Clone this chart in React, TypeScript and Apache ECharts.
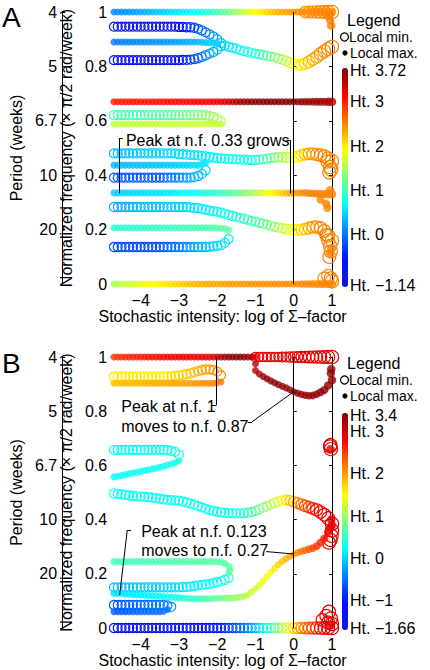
import React, { useEffect, useRef } from "react";
import * as echarts from "echarts";

// ---------- shared x grid (log of Sigma-factor) ----------
const XS = [-4.7,-4.6,-4.5,-4.4,-4.3,-4.2,-4.1,-4.0,-3.9,-3.8,
  -3.7,-3.6,-3.5,-3.4,-3.3,-3.2,-3.1,-3.0,-2.9,-2.8,
  -2.7,-2.6,-2.5,-2.4,-2.3,-2.2,-2.1,-2.0,-1.9,-1.8,
  -1.7,-1.6,-1.5,-1.4,-1.3,-1.2,-1.1,-1.0,-0.9,-0.8,
  -0.7,-0.6,-0.5,-0.4,-0.3,-0.2,-0.1,0,0.1,0.2,
  0.3,0.4,0.5,0.6,0.7,0.8,0.9,1.0];
const XS_LATE = [-1.0,-0.9,-0.8,-0.7,-0.6,-0.5,-0.4,-0.3,-0.2,-0.1,0,0.1,0.2,0.3,0.4,0.5,0.6,0.7,0.8,0.9,1.0];

// ---------- Panel A: local maxima (filled) ----------
const A1_Y = [1,1,1,1,1,1,1,1,1,1, 1,1,1,1,1,1,1,1,1,1, 1,1,1,1,1,1,1,1,1,1, 1,1,1,1,1,1,1,1,1,1, 1,1,1,1,1,1,1,1,1,1, 1,1,1,1,1,1,1,1];
const A1_H = [0.10,0.12,0.14,0.16,0.18,0.20,0.23,0.26,0.30,0.33, 0.36,0.39,0.42,0.45,0.48,0.51,0.54,0.57,0.60,0.63,
  0.66,0.70,0.74,0.78,0.82,0.87,0.93,1.00,1.07,1.15, 1.23,1.31,1.40,1.50,1.60,1.70,1.80,1.88,1.95,2.02,
  2.08,2.14,2.20,2.25,2.30,2.34,2.37,2.40,2.42,2.44, 2.45,2.46,2.47,2.48,2.48,2.48,2.48,2.48];
const A3_Y = [0.89,0.89,0.89,0.89,0.89,0.89,0.89,0.89,0.89,0.89, 0.89,0.89,0.89,0.89,0.89,0.89,0.89,0.89,0.89,0.89, 0.89,0.89,0.89,0.889,0.888,0.887,0.886,0.885];
const A3_H = [0.05,0.06,0.07,0.08,0.09,0.10,0.11,0.12,0.13,0.14, 0.15,0.16,0.17,0.18,0.19,0.20,0.22,0.24,0.26,0.28, 0.30,0.32,0.34,0.36,0.39,0.42,0.45,0.48];
const A5_Y = [0.67,0.67,0.67,0.67,0.67,0.67,0.67,0.67,0.67,0.67, 0.67,0.67,0.67,0.67,0.67,0.67,0.67,0.67,0.67,0.67,
  0.67,0.67,0.67,0.67,0.67,0.67,0.67,0.67,0.67,0.67, 0.67,0.67,0.67,0.67,0.67,0.67,0.67,0.67,0.67,0.67,
  0.67,0.67,0.67,0.67,0.67,0.67,0.67,0.67,0.67,0.67, 0.67,0.67,0.67,0.67,0.67,0.67,0.67,0.67];
const A5_H = [3.00,3.00,3.00,3.01,3.01,3.02,3.02,3.03,3.03,3.04, 3.04,3.05,3.05,3.06,3.06,3.07,3.07,3.08,3.08,3.09,
  3.10,3.10,3.11,3.12,3.13,3.14,3.16,3.18,3.22,3.28, 3.35,3.42,3.50,3.56,3.60,3.63,3.65,3.66,3.67,3.68,
  3.68,3.69,3.69,3.70,3.70,3.70,3.69,3.68,3.66,3.64, 3.62,3.60,3.58,3.56,3.55,3.54,3.53,3.52];
const A7_Y = [0.588,0.588,0.588,0.588,0.588,0.588,0.588,0.588,0.588,0.588, 0.588,0.588,0.588,0.588,0.588,0.588,0.588,0.588,0.588,0.588, 0.588,0.588,0.588,0.588,0.588,0.588,0.588,0.588,0.588];
const A7_H = [1.60,1.60,1.60,1.60,1.60,1.60,1.60,1.60,1.60,1.60, 1.62,1.62,1.62,1.62,1.62,1.62,1.62,1.62,1.62,1.62, 1.64,1.64,1.64,1.64,1.64,1.64,1.64,1.64,1.64];
const A9_Y = [0.437,0.437,0.437,0.437,0.437,0.437,0.437,0.437,0.437,0.437, 0.437,0.437,0.437,0.437,0.437,0.437,0.437,0.437,0.437,0.437, 0.437,0.437,0.437,0.440,0.445];
const A9_H = [0.35,0.35,0.36,0.36,0.37,0.37,0.38,0.38,0.39,0.39, 0.40,0.40,0.41,0.42,0.43,0.44,0.45,0.46,0.47,0.48, 0.49,0.50,0.52,0.54,0.56];
const A11_Y = [0.335,0.335,0.335,0.335,0.335,0.335,0.335,0.335,0.335,0.335, 0.335,0.335,0.335,0.335,0.335,0.335,0.335,0.335,0.335,0.335,
  0.335,0.335,0.335,0.335,0.335,0.335,0.335,0.335,0.335,0.335, 0.335,0.335,0.335,0.335,0.335,0.335,0.335,0.335,0.335,0.335,
  0.335,0.335,0.335,0.335,0.334,0.334,0.334,0.334,0.335,0.335, 0.335,0.334,0.333,0.332,0.332,0.331,0.330,0.330];
const A11_H = [0.45,0.46,0.47,0.48,0.49,0.50,0.51,0.52,0.53,0.54, 0.55,0.56,0.57,0.58,0.59,0.60,0.62,0.64,0.66,0.68,
  0.70,0.72,0.75,0.78,0.81,0.84,0.88,0.92,0.96,1.00, 1.05,1.10,1.16,1.22,1.30,1.38,1.46,1.54,1.63,1.72,
  1.81,1.90,1.98,2.06,2.14,2.22,2.30,2.35,2.40,2.44, 2.46,2.48,2.50,2.50,2.50,2.50,2.50,2.50];
const A13_Y = [0.207,0.207,0.207,0.207,0.207,0.207,0.207,0.207,0.207,0.207, 0.207,0.207,0.207,0.207,0.207,0.207,0.207,0.207,0.207,0.207, 0.207,0.207,0.207,0.207,0.207,0.207,0.207,0.206,0.205,0.203,0.198];
const A13_H = [0.90,0.90,0.91,0.91,0.92,0.92,0.93,0.93,0.94,0.94, 0.95,0.95,0.96,0.96,0.97,0.97,0.98,0.98,0.99,0.99, 1.00,1.01,1.02,1.03,1.04,1.05,1.06,1.08,1.10,1.12,1.15];
const A15_Y = [0,0,0,0,0,0,0,0,0,0, 0,0,0,0,0,0,0,0,0,0, 0,0,0,0,0,0,0,0,0,0, 0,0,0,0,0,0,0,0,0,0, 0,0,0,0,0,0,0,0,0,0, 0,0,0,0,0,0,0,0];
const A15_H = [1.50,1.54,1.58,1.62,1.66,1.70,1.74,1.78,1.82,1.86, 1.90,1.93,1.96,1.99,2.02,2.05,2.08,2.11,2.14,2.17,
  2.20,2.22,2.24,2.26,2.28,2.30,2.31,2.32,2.33,2.34, 2.35,2.36,2.37,2.38,2.39,2.40,2.40,2.41,2.41,2.42,
  2.42,2.43,2.43,2.44,2.44,2.45,2.45,2.45,2.46,2.46, 2.46,2.47,2.47,2.47,2.48,2.48,2.48,2.48];
const A_XMAX_X = [0.92,0.95,0.98,0.7,0.85,0.88,0.95,0.95,0.98];
const A_XMAX_Y = [0.985,0.97,0.95,0.31,0.295,0.28,0.345,0.11,0.13];
const A_XMAX_H = [2.5,2.5,2.5,2.5,2.5,2.5,2.5,2.5,2.5];

// ---------- Panel A: local minima (open) ----------
const A2_Y = [0.946,0.946,0.946,0.946,0.946,0.946,0.946,0.946,0.946,0.946, 0.946,0.946,0.946,0.946,0.946,0.946,0.946,0.945,0.945,0.944,
  0.944,0.942,0.938,0.932,0.925,0.918,0.910,0.900,0.886,0.877, 0.872,0.869,0.865,0.860,0.856,0.853,0.850,0.847,0.845,0.842,
  0.839,0.836,0.833,0.829,0.825,0.820,0.814,0.809,0.806,0.806, 0.810,0.817,0.826,0.835,0.846,0.856,0.864,0.872];
const A2_H = [-0.80,-0.80,-0.80,-0.80,-0.80,-0.80,-0.80,-0.80,-0.80,-0.80, -0.80,-0.80,-0.80,-0.80,-0.80,-0.78,-0.75,-0.70,-0.60,-0.50,
  -0.40,-0.30,-0.20,-0.10,0.00,0.10,0.20,0.30,0.40,0.50, 0.55,0.60,0.65,0.70,0.75,0.80,0.85,0.90,0.95,1.00,
  1.10,1.20,1.30,1.40,1.50,1.60,1.70,1.80,1.90,2.00, 2.10,2.20,2.30,2.35,2.40,2.45,2.50,2.50];
const A4_Y = [0.823,0.823,0.823,0.823,0.823,0.823,0.823,0.823,0.823,0.823, 0.823,0.823,0.823,0.823,0.823,0.823,0.823,0.823,0.824,0.824, 0.825,0.827,0.830,0.835,0.841,0.847,0.853,0.862,0.874];
const A4_H = [-0.80,-0.80,-0.80,-0.80,-0.80,-0.80,-0.80,-0.80,-0.80,-0.80, -0.80,-0.80,-0.80,-0.80,-0.80,-0.78,-0.72,-0.62,-0.52,-0.42, -0.32,-0.22,-0.12,-0.02,0.08,0.18,0.28,0.38,0.48];
const A6_Y = [0.621,0.621,0.621,0.621,0.621,0.621,0.621,0.621,0.621,0.621, 0.621,0.621,0.621,0.621,0.621,0.621,0.621,0.621,0.621,0.621, 0.621,0.621,0.621,0.621,0.620,0.618,0.614,0.607,0.597];
const A6_H = [1.00,1.00,1.01,1.01,1.02,1.02,1.03,1.03,1.04,1.05, 1.06,1.07,1.08,1.10,1.12,1.14,1.16,1.18,1.20,1.22, 1.25,1.28,1.31,1.34,1.37,1.40,1.43,1.46,1.50];
const A8_Y = [0.480,0.480,0.480,0.480,0.480,0.480,0.480,0.480,0.480,0.480, 0.480,0.480,0.480,0.480,0.480,0.480,0.480,0.478,0.477,0.476,
  0.475,0.474,0.473,0.471,0.469,0.467,0.465,0.463,0.462,0.461, 0.460,0.459,0.458,0.457,0.457,0.456,0.456,0.456,0.457,0.459,
  0.461,0.463,0.465,0.466,0.466,0.465,0.465,0.466,0.469,0.473, 0.477,0.479,0.478,0.476,0.474,0.470,0.462,0.452];
const A8_H = [0.35,0.36,0.37,0.38,0.39,0.40,0.41,0.42,0.43,0.44, 0.45,0.46,0.47,0.48,0.49,0.50,0.51,0.52,0.53,0.54,
  0.55,0.56,0.57,0.58,0.59,0.60,0.62,0.64,0.66,0.68, 0.70,0.72,0.74,0.76,0.78,0.80,0.84,0.88,0.93,1.00,
  1.08,1.16,1.25,1.35,1.46,1.58,1.70,1.82,1.95,2.08, 2.20,2.30,2.38,2.44,2.48,2.50,2.50,2.50];
const A10_Y = [0.391,0.391,0.391,0.391,0.391,0.391,0.391,0.391,0.391,0.391, 0.391,0.391,0.391,0.391,0.391,0.391,0.391,0.391,0.391,0.391, 0.391,0.393,0.397,0.405,0.418];
const A10_H = [-0.15,-0.15,-0.15,-0.15,-0.15,-0.15,-0.15,-0.15,-0.15,-0.15, -0.15,-0.15,-0.15,-0.10,-0.05,0.00,0.05,0.10,0.15,0.20, 0.25,0.30,0.35,0.40,0.45];
const A12_Y = [0.283,0.283,0.283,0.283,0.283,0.283,0.283,0.283,0.283,0.283, 0.283,0.283,0.283,0.283,0.283,0.283,0.283,0.283,0.283,0.283,
  0.282,0.280,0.279,0.276,0.273,0.270,0.268,0.266,0.262,0.258, 0.254,0.250,0.247,0.243,0.240,0.236,0.232,0.229,0.225,0.222,
  0.218,0.214,0.211,0.208,0.205,0.202,0.200,0.199,0.199,0.200, 0.202,0.206,0.209,0.210,0.206,0.195,0.178,0.160];
const A12_H = [0.30,0.31,0.32,0.33,0.34,0.35,0.36,0.37,0.38,0.39, 0.40,0.41,0.42,0.43,0.44,0.45,0.46,0.47,0.48,0.49,
  0.50,0.52,0.55,0.58,0.61,0.64,0.67,0.70,0.73,0.76, 0.79,0.82,0.85,0.88,0.92,0.96,1.00,1.05,1.10,1.17,
  1.24,1.32,1.40,1.50,1.60,1.70,1.80,1.90,2.00,2.10, 2.20,2.30,2.38,2.44,2.48,2.50,2.50,2.50];
const A14_Y = [0.136,0.136,0.136,0.136,0.136,0.136,0.136,0.136,0.136,0.136, 0.136,0.136,0.136,0.136,0.136,0.136,0.136,0.136,0.136,0.136, 0.136,0.136,0.136,0.136,0.136,0.137,0.138,0.140,0.143,0.152,0.165];
const A14_H = [-0.20,-0.20,-0.20,-0.20,-0.20,-0.20,-0.20,-0.20,-0.20,-0.20, -0.20,-0.20,-0.20,-0.15,-0.10,-0.05,0.00,0.05,0.10,0.15, 0.20,0.25,0.30,0.34,0.38,0.42,0.46,0.50,0.54,0.58,0.62];
const A_XMIN_X = [0.3,0.4,0.5,0.6,0.7,0.8,0.9,1.0,0.88,0.95,0.98,0.93,0.85,0.9,0.95,0.97,0.93,0.8,0.9,0.97,1.0];
const A_XMIN_Y = [1,1,1,1,1,1,1,1,0.45,0.43,0.42,0.41,0.18,0.16,0.14,0.12,0.10,0.02,0.03,0.02,0.01];
const A_XMIN_H = [2.40,2.42,2.44,2.45,2.46,2.47,2.48,2.48,2.5,2.5,2.5,2.5,2.5,2.5,2.5,2.5,2.5,2.45,2.47,2.48,2.48];

// ---------- Panel B: local maxima (filled) ----------
const B1_Y = [1,1,1,1,1,1,1,1,1,1, 1,1,1,1,1,1,1,1,1,1, 1,1,1,1,1,1,1,1,1,1, 1,1,1,1,1,1,1,1];
const B1_H = [2.50,2.52,2.54,2.56,2.58,2.60,2.62,2.64,2.66,2.68, 2.70,2.72,2.74,2.75,2.76,2.77,2.78,2.79,2.80,2.81,
  2.82,2.83,2.84,2.85,2.86,2.88,2.92,2.98,3.10,3.22, 3.30,3.34,3.36,3.36,3.34,3.28,3.15,3.00];
const B3_Y = [0.950,0.937,0.928,0.920,0.912,0.905,0.898,0.892,0.886,0.879,0.872,0.867,0.862,0.859,0.857,0.858,0.863,0.870,0.878,0.895,0.915];
const B3_H = [3.10,3.20,3.25,3.28,3.30,3.30,3.30,3.30,3.30,3.30,3.30,3.30,3.30,3.30,3.31,3.32,3.33,3.34,3.35,3.35,3.35];
const B5_Y = [0.903,0.903,0.903,0.903,0.903,0.903,0.903,0.903,0.903,0.903, 0.903,0.903,0.903,0.903,0.903,0.903,0.903,0.903,0.903,0.903, 0.903,0.903,0.903,0.903,0.903,0.903,0.903,0.905,0.908];
const B5_H = [1.80,1.81,1.82,1.83,1.84,1.85,1.86,1.87,1.88,1.89, 1.90,1.91,1.92,1.93,1.94,1.95,1.96,1.97,1.98,1.99, 2.00,2.02,2.04,2.06,2.08,2.10,2.12,2.14,2.16];
const B7_Y = [0.557,0.560,0.563,0.566,0.569,0.572,0.575,0.578,0.581,0.584, 0.587,0.590,0.593,0.597,0.601,0.605,0.610,0.617];
const B7_H = [0.28,0.28,0.29,0.29,0.30,0.30,0.30,0.31,0.31,0.31, 0.32,0.32,0.32,0.33,0.33,0.34,0.34,0.35];
const B9_Y = [0.245,0.245,0.245,0.245,0.245,0.245,0.245,0.245,0.245,0.245, 0.245,0.245,0.245,0.245,0.245,0.245,0.245,0.245,0.245,0.245, 0.245,0.245,0.245,0.245,0.245,0.245,0.245,0.245,0.243,0.238,0.228];
const B9_H = [0.55,0.55,0.56,0.56,0.57,0.57,0.58,0.58,0.59,0.59, 0.60,0.60,0.61,0.61,0.62,0.62,0.63,0.63,0.64,0.64, 0.65,0.65,0.66,0.66,0.67,0.67,0.68,0.68,0.69,0.69,0.70];
const B11_Y = [0.128,0.127,0.127,0.126,0.125,0.124,0.123,0.122,0.121,0.120, 0.119,0.118,0.117,0.116,0.115,0.114,0.113,0.112,0.111,0.110,
  0.109,0.108,0.108,0.108,0.108,0.108,0.109,0.110,0.110,0.111, 0.111,0.111,0.112,0.114,0.117,0.123,0.133,0.145,0.158,0.173,
  0.190,0.205,0.220,0.234,0.246,0.256,0.265,0.272,0.278,0.283, 0.287,0.291,0.295,0.302,0.315,0.330,0.355,0.380];
const B11_H = [0.10,0.11,0.12,0.13,0.14,0.15,0.16,0.17,0.18,0.19, 0.21,0.23,0.25,0.27,0.29,0.31,0.34,0.37,0.40,0.43,
  0.46,0.50,0.54,0.58,0.62,0.66,0.71,0.76,0.81,0.86, 0.91,0.96,1.01,1.06,1.11,1.16,1.21,1.27,1.33,1.40,
  1.47,1.54,1.62,1.70,1.78,1.86,1.94,2.02,2.10,2.18, 2.26,2.34,2.42,2.50,2.58,2.66,2.74,2.82];
const B13_Y = [0.060,0.060,0.060,0.060,0.060,0.060,0.060,0.060,0.060,0.060, 0.060,0.060,0.060,0.062,0.068];
const B13_H = [-0.60,-0.59,-0.58,-0.57,-0.56,-0.55,-0.54,-0.53,-0.52,-0.51, -0.50,-0.49,-0.48,-0.47,-0.46];
const B_XMAX_X = [0.97,0.98,-1.0,0.96,0.98,0.96,0.97,-1.7,-1.66];
const B_XMAX_Y = [0.94,0.955,0.975,0.66,0.40,0.37,0.01,0.205,0.215];
const B_XMAX_H = [3.3,3.3,3.1,2.9,2.9,2.9,2.9,0.7,0.7];

// ---------- Panel B: local minima (open) ----------
const B2_Y = [1,1,1,1,1,1,1,1,1,1,1,1,1,1,1,1,1,1,1,1,1];
const B2_H = [2.80,2.82,2.84,2.85,2.86,2.86,2.87,2.87,2.88,2.88,2.88,2.88,2.88,2.87,2.87,2.86,2.86,2.86,2.86,2.86,2.85];
const B4_Y = [0.928,0.928,0.928,0.928,0.928,0.928,0.928,0.928,0.928,0.928, 0.928,0.928,0.928,0.928,0.928,0.929,0.930,0.932,0.934,0.937, 0.940,0.944,0.948,0.952,0.954,0.954,0.952,0.946,0.932];
const B4_H = [1.60,1.60,1.60,1.60,1.60,1.60,1.60,1.60,1.60,1.60, 1.60,1.60,1.60,1.60,1.60,1.65,1.68,1.71,1.74,1.77, 1.80,1.84,1.88,1.92,1.96,2.00,2.04,2.08,2.12];
const B6_Y = [0.657,0.657,0.657,0.657,0.657,0.657,0.657,0.657,0.657,0.657, 0.657,0.657,0.657,0.657,0.656,0.654,0.650,0.640];
const B6_H = [0.25,0.25,0.26,0.26,0.27,0.27,0.28,0.28,0.29,0.29, 0.30,0.30,0.31,0.31,0.32,0.33,0.34,0.35];
const B8_Y = [0.497,0.495,0.493,0.491,0.489,0.487,0.486,0.485,0.484,0.483, 0.481,0.479,0.477,0.475,0.473,0.472,0.471,0.470,0.467,0.463,
  0.459,0.455,0.450,0.445,0.440,0.436,0.432,0.429,0.427,0.425, 0.424,0.423,0.423,0.423,0.424,0.425,0.428,0.432,0.438,0.444,
  0.450,0.456,0.462,0.467,0.470,0.472,0.470,0.466,0.461,0.456, 0.451,0.446,0.441,0.436,0.428,0.418,0.405,0.385];
const B8_H = [0.28,0.28,0.28,0.28,0.28,0.28,0.28,0.28,0.28,0.28, 0.29,0.29,0.29,0.29,0.29,0.29,0.29,0.29,0.29,0.29,
  0.30,0.30,0.30,0.30,0.30,0.30,0.30,0.30,0.30,0.30, 0.32,0.35,0.38,0.42,0.47,0.53,0.60,0.70,0.80,0.90,
  1.00,1.10,1.20,1.35,1.50,1.65,1.80,1.95,2.10,2.25, 2.40,2.50,2.60,2.70,2.80,2.85,2.90,2.90];
const B10_Y = [0.150,0.150,0.150,0.150,0.150,0.150,0.150,0.150,0.150,0.150, 0.150,0.150,0.150,0.150,0.150,0.150,0.150,0.150,0.151,0.152, 0.153,0.155,0.157,0.159,0.161,0.163,0.166,0.169,0.173,0.178,0.185];
const B10_H = [-0.10,-0.09,-0.08,-0.07,-0.06,-0.05,-0.04,-0.03,-0.02,-0.01, 0.00,0.01,0.02,0.03,0.04,0.05,0.07,0.09,0.11,0.13, 0.15,0.17,0.19,0.21,0.23,0.25,0.27,0.29,0.31,0.33,0.35];
const B12_Y = [0.085,0.085,0.085,0.085,0.085,0.085,0.085,0.085,0.085,0.085, 0.085,0.085,0.085,0.085,0.083,0.078];
const B12_H = [-0.65,-0.64,-0.62,-0.60,-0.58,-0.56,-0.54,-0.52,-0.50,-0.48, -0.46,-0.44,-0.42,-0.40,-0.38,-0.35];
const B14_Y = [0,0,0,0,0,0,0,0,0,0, 0,0,0,0,0,0,0,0,0,0, 0,0,0,0,0,0,0,0,0,0, 0,0,0,0,0,0,0,0,0,0, 0,0,0,0,0,0,0,0,0,0, 0,0,0,0,0,0,0,0];
const B14_H = [-1.35,-1.35,-1.35,-1.35,-1.35,-1.35,-1.35,-1.35,-1.35,-1.35, -1.30,-1.30,-1.30,-1.30,-1.30,-1.30,-1.30,-1.30,-1.30,-1.30,
  -1.20,-1.18,-1.16,-1.14,-1.12,-1.10,-1.07,-1.04,-0.95,-0.88, -0.80,-0.72,-0.64,-0.56,-0.50,-0.40,-0.25,-0.10,0.05,0.20,
  0.35,0.50,0.70,0.90,1.10,1.30,1.50,1.70,1.90,2.05, 2.20,2.35,2.45,2.55,2.65,2.75,2.85,2.90];
const B_XMIN_X = [0.95,0.97,0.96,0.75,0.85,0.92,0.97,1.0,0.9,1.0,0.99,0.96,0.92];
const B_XMIN_Y = [0.67,0.66,0.675,0.03,0.045,0.06,0.035,0.015,0.02,0.36,0.34,0.325,0.315];
const B_XMIN_H = [2.9,2.9,2.9,2.7,2.8,2.85,2.9,2.9,2.85,2.9,2.9,2.9,2.9];

// ---------- axes / scales ----------
const X_TICKS = [-4, -3, -2, -1, 0, 1];
const PERIOD_TICKS = [0.2, 0.4, 0.6, 0.8, 1];
const PERIOD_LABELS = ["20", "10", "6.7", "5", "4"];
const HT_A = [-1.14, 3.72];
const HT_B = [-1.66, 3.4];
const HT_TICKS_A = [-1.14, 0, 1, 2, 3, 3.72];
const HT_TICKS_B = [-1.66, -1, 0, 1, 2, 3, 3.4];

const FONT = '"Liberation Sans", Arial, Helvetica, sans-serif';
const JET = ["#1414dc", "#0010ff", "#0080ff", "#00ffff", "#80ff80", "#ffff00", "#ff8000", "#ff0000", "#800000"];

function track(xs: number[], ys: number[], hs: number[]) {
  return ys.map((y, i) => [xs[i], y, hs[i]]);
}
const minus = (v: number) => (v < 0 ? "\u2212" + String(Math.abs(v)) : String(v));

const A_MIN = [
  ...track(XS, A2_Y, A2_H), ...track(XS, A4_Y, A4_H), ...track(XS, A6_Y, A6_H), ...track(XS, A8_Y, A8_H),
  ...track(XS, A10_Y, A10_H), ...track(XS, A12_Y, A12_H), ...track(XS, A14_Y, A14_H), ...track(A_XMIN_X, A_XMIN_Y, A_XMIN_H),
];
const A_MAX = [
  ...track(XS, A1_Y, A1_H), ...track(XS, A3_Y, A3_H), ...track(XS, A5_Y, A5_H), ...track(XS, A7_Y, A7_H),
  ...track(XS, A9_Y, A9_H), ...track(XS, A11_Y, A11_H), ...track(XS, A13_Y, A13_H), ...track(XS, A15_Y, A15_H),
  ...track(A_XMAX_X, A_XMAX_Y, A_XMAX_H),
];
const B_MIN = [
  ...track(XS_LATE, B2_Y, B2_H), ...track(XS, B4_Y, B4_H), ...track(XS, B6_Y, B6_H), ...track(XS, B8_Y, B8_H),
  ...track(XS, B10_Y, B10_H), ...track(XS, B12_Y, B12_H), ...track(XS, B14_Y, B14_H), ...track(B_XMIN_X, B_XMIN_Y, B_XMIN_H),
];
const B_MAX = [
  ...track(XS, B1_Y, B1_H), ...track(XS_LATE, B3_Y, B3_H), ...track(XS, B5_Y, B5_H), ...track(XS, B7_Y, B7_H),
  ...track(XS, B9_Y, B9_H), ...track(XS, B11_Y, B11_H), ...track(XS, B13_Y, B13_H), ...track(B_XMAX_X, B_XMAX_Y, B_XMAX_H),
];

const GRID_A = { left: 103, top: 12, width: 229, height: 272 };
const GRID_B = { left: 103, top: 357, width: 229, height: 271 };

function minRender(params: any, api: any) {
  const x = api.value(0);
  const p = api.coord([x, api.value(1)]);
  const r = 4.5 + Math.max(0, x + 0.5) * 1.4;
  return {
    type: "circle",
    shape: { cx: p[0], cy: p[1], r },
    style: { fill: "none", stroke: api.visual("color"), lineWidth: 1.2 },
    silent: true,
  };
}

const seg = (a: number[], b: number[]) => [{ coord: a }, { coord: b }];
const noteLabel = (text: string, lh: number) => ({
  show: true, position: "right", distance: 0, formatter: text, color: "#000",
  fontSize: 16, fontFamily: FONT, lineHeight: lh,
});

function xAxisFor(gi: number) {
  return {
    type: "value", gridIndex: gi, min: -4.72, max: 1,
    axisLine: { show: false }, axisTick: { show: false }, splitLine: { show: false },
    axisLabel: { customValues: X_TICKS, formatter: (v: number) => minus(v), color: "#000", fontSize: 16, fontFamily: FONT, margin: 8 },
    name: "Stochastic intensity: log of \u03A3\u2013factor", nameLocation: "middle", nameGap: 21,
    nameTextStyle: { color: "#000", fontSize: 16, fontFamily: FONT },
  };
}
function yAxesFor(gi: number) {
  const line = { show: true, lineStyle: { color: "#000", width: 1 } };
  return [
    {
      type: "value", gridIndex: gi, position: "left", min: 0, max: 1, interval: 0.2,
      axisLine: line, axisTick: { show: true, inside: true, length: 3, lineStyle: { color: "#000" } }, splitLine: { show: false },
      axisLabel: { color: "#000", fontSize: 16, fontFamily: FONT, margin: 6 },
      name: "Normalized frequency (\u00D7 \u03C0/2 rad/week)", nameLocation: "middle", nameGap: 28,
      nameTextStyle: { color: "#000", fontSize: 16, fontFamily: FONT },
    },
    {
      type: "value", gridIndex: gi, position: "left", offset: 51, min: 0, max: 1,
      axisLine: line, splitLine: { show: false },
      axisTick: { show: true, inside: true, length: 3, customValues: PERIOD_TICKS, lineStyle: { color: "#000" } },
      axisLabel: {
        customValues: PERIOD_TICKS, color: "#000", fontSize: 16, fontFamily: FONT, margin: 5,
        formatter: (v: number) => {
          const k = PERIOD_TICKS.findIndex((t) => Math.abs(t - v) < 1e-6);
          return k >= 0 ? PERIOD_LABELS[k] : "";
        },
      },
      name: "Period (weeks)", nameLocation: "middle", nameGap: 34,
      nameTextStyle: { color: "#000", fontSize: 16, fontFamily: FONT },
    },
    {
      type: "value", gridIndex: gi, position: "right", min: 0, max: 1, interval: 0.2,
      axisLine: line, axisTick: { show: true, inside: true, length: 3, lineStyle: { color: "#000" } },
      axisLabel: { show: false }, splitLine: { show: false },
    },
  ];
}
function htAxis(gi: number, range: number[], ticks: number[]) {
  return {
    type: "value", gridIndex: gi, position: "right", min: range[0], max: range[1],
    axisLine: { show: false }, axisTick: { show: false }, splitLine: { show: false },
    axisLabel: { customValues: ticks, formatter: (v: number) => "Ht. " + minus(v), color: "#000", fontSize: 16, fontFamily: FONT, margin: 2 },
  };
}

function legendGraphics(y0: number) {
  const t = (text: string, x: number, y: number, size: number) => ({
    type: "text", x, y, silent: true,
    style: { text, fill: "#000", fontSize: size, lineHeight: size, fontFamily: FONT, align: "left", verticalAlign: "middle" },
  });
  return [
    t("Legend", 347, y0, 16),
    { type: "circle", silent: true, shape: { cx: 344.5, cy: y0 + 17, r: 4 }, style: { fill: "none", stroke: "#000", lineWidth: 1.3 } },
    t("Local min.", 349, y0 + 17, 14),
    { type: "circle", silent: true, shape: { cx: 345, cy: y0 + 33, r: 2.6 }, style: { fill: "#000" } },
    t("Local max.", 350, y0 + 33, 14),
  ];
}

const option: any = {
  animation: false,
  backgroundColor: "#fff",
  textStyle: { fontFamily: FONT },
  grid: [
    GRID_A, GRID_B,
    { left: 347, top: 70, width: 1, height: 215 },
    { left: 347, top: 415, width: 1, height: 213 },
  ],
  xAxis: [
    xAxisFor(0), xAxisFor(1),
    { type: "value", gridIndex: 2, show: false },
    { type: "value", gridIndex: 3, show: false },
  ],
  yAxis: [...yAxesFor(0), ...yAxesFor(1), htAxis(2, HT_A, HT_TICKS_A), htAxis(3, HT_B, HT_TICKS_B)],
  visualMap: [
    {
      type: "continuous", seriesIndex: [0, 1], dimension: 2, min: HT_A[0], max: HT_A[1],
      inRange: { color: JET }, calculable: false, hoverLink: false, padding: 0,
      left: 342, top: 68, itemWidth: 6, itemHeight: 219,
    },
    {
      type: "continuous", seriesIndex: [2, 3], dimension: 2, min: HT_B[0], max: HT_B[1],
      inRange: { color: JET }, calculable: false, hoverLink: false, padding: 0,
      left: 342, top: 413, itemWidth: 6, itemHeight: 217,
    },
  ],
  series: [
    {
      type: "custom", name: "A min", xAxisIndex: 0, yAxisIndex: 0, dimensions: ["x", "y", "h"],
      encode: { x: 0, y: 1 }, renderItem: minRender, data: A_MIN, silent: true,
    },
    {
      type: "scatter", name: "A max", xAxisIndex: 0, yAxisIndex: 0, dimensions: ["x", "y", "h"],
      encode: { x: 0, y: 1 }, symbol: "circle", symbolSize: (v: number[]) => 7 + Math.max(0, v[0]) * 1.5,
      data: A_MAX, silent: true,
      markLine: {
        silent: true, symbol: ["none", "none"], label: { show: false },
        lineStyle: { color: "#000", width: 1, type: "solid" },
        data: [
          { xAxis: 0 },
          seg([-4.57, 0.535], [-4.57, 0.333]), seg([-4.57, 0.535], [-4.47, 0.535]),
          seg([-0.09, 0.529], [-0.09, 0.333]), seg([-0.19, 0.529], [-0.09, 0.529]),
        ],
      },
      markPoint: {
        silent: true, symbol: "rect", symbolSize: 1, itemStyle: { color: "rgba(0,0,0,0)" },
        data: [{ coord: [-4.4, 0.527], label: noteLabel("Peak at n.f. 0.33 grows", 18) }],
      },
    },
    {
      type: "custom", name: "B min", xAxisIndex: 1, yAxisIndex: 3, dimensions: ["x", "y", "h"],
      encode: { x: 0, y: 1 }, renderItem: minRender, data: B_MIN, silent: true,
    },
    {
      type: "scatter", name: "B max", xAxisIndex: 1, yAxisIndex: 3, dimensions: ["x", "y", "h"],
      encode: { x: 0, y: 1 }, symbol: "circle", symbolSize: (v: number[]) => 7 + Math.max(0, v[0]) * 1.5,
      data: B_MAX, silent: true,
      markLine: {
        silent: true, symbol: ["none", "none"], label: { show: false },
        lineStyle: { color: "#000", width: 1, type: "solid" },
        data: [
          { xAxis: 0 },
          seg([-2.02, 1.0], [-2.02, 0.823]), seg([-2.15, 0.823], [-2.02, 0.823]),
          seg([-1.2, 0.761], [-1.09, 0.761]), seg([-1.09, 0.761], [0, 0.872]),
          seg([-4.25, 0.362], [-4.35, 0.362]), seg([-4.35, 0.362], [-4.55, 0.122]),
          seg([-0.72, 0.282], [0, 0.273]),
        ],
      },
      markPoint: {
        silent: true, symbol: "rect", symbolSize: 1, itemStyle: { color: "rgba(0,0,0,0)" },
        data: [
          { coord: [-4.52, 0.779], label: noteLabel("Peak at n.f. 1\nmoves to n.f. 0.87", 20) },
          { coord: [-4.0, 0.322], label: noteLabel("Peak at n.f. 0.123\nmoves to n.f. 0.27", 19) },
        ],
      },
    },
  ],
  graphic: [
    { type: "text", x: 2, y: 17, silent: true, style: { text: "A", fill: "#000", fontSize: 28, fontFamily: FONT, verticalAlign: "middle" } },
    { type: "text", x: 2, y: 363, silent: true, style: { text: "B", fill: "#000", fontSize: 28, fontFamily: FONT, verticalAlign: "middle" } },
    ...legendGraphics(20),
    ...legendGraphics(363),
  ],
};

export default function App() {
  const ref = useRef<HTMLDivElement>(null);
  useEffect(() => {
    document.body.style.margin = "0";
    const chart = echarts.init(ref.current as HTMLDivElement, null, { renderer: "svg" });
    chart.setOption(option);
    return () => chart.dispose();
  }, []);
  return <div ref={ref} style={{ width: 430, height: 670 }} />;
}
